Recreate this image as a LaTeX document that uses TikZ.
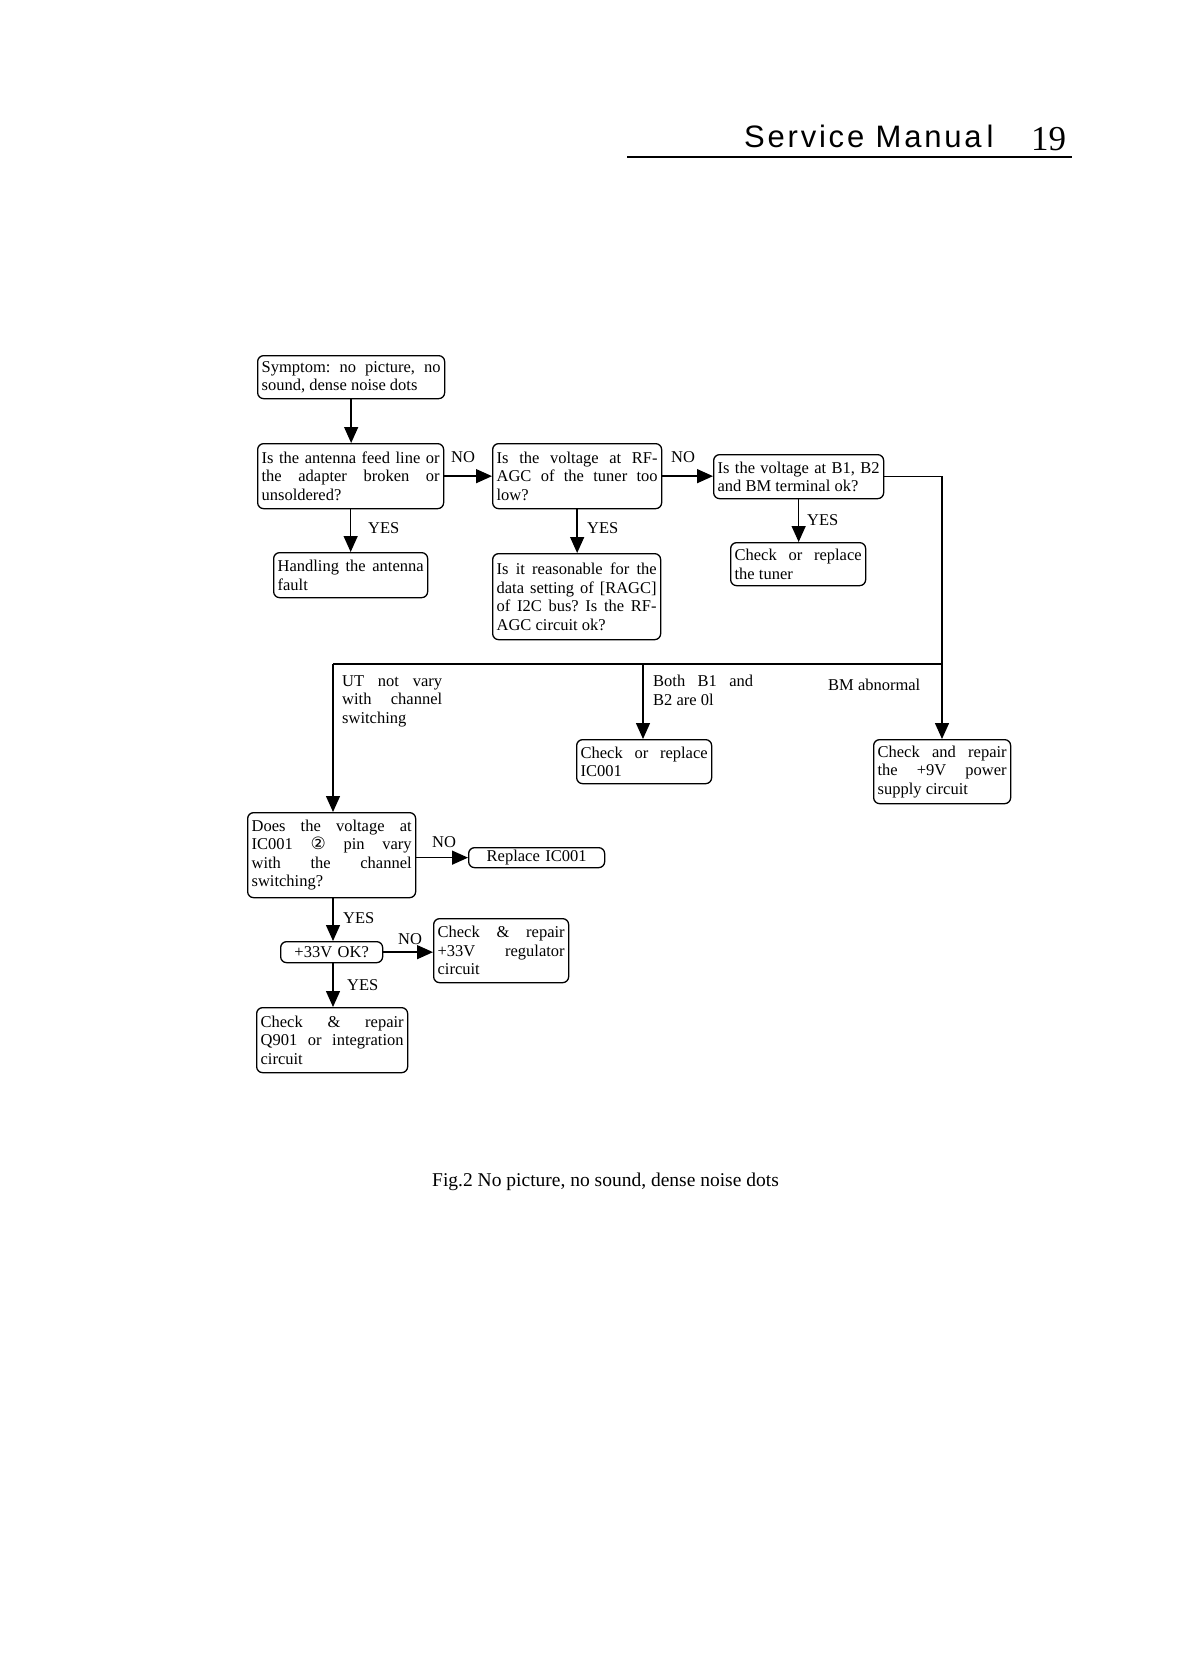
\documentclass[tikz,border=0pt]{standalone}
\usepackage{fontspec}
\setmainfont{Liberation Serif}
\newfontfamily\hdrfont[LetterSpace=9]{Liberation Sans}
\newfontfamily\symfont{DejaVu Sans}
\usetikzlibrary{arrows.meta}
\newcommand{\nl}{\linebreak}
\frenchspacing
\tikzset{
  box/.style={draw, line width=1.3pt, rounded corners=6pt, anchor=north west,
    inner xsep=4pt, inner ysep=1pt, align=justify,
    font=\fontsize{16.5}{18.5}\selectfont},
  onebox/.style={box, align=center},
  lbl/.style={inner sep=0pt, font=\fontsize{16.5}{18.5}\selectfont},
  arr/.style={line width=1.4pt, -{Triangle[width=14pt,length=16pt]}},
  ln/.style={line width=1.4pt}
}
\begin{document}
\begin{tikzpicture}[x=1pt,y=-1pt]
\useasboundingbox (0,0) rectangle (1189,1680);
\fill[white] (0,0) rectangle (1189,1680);
% header
\node[inner sep=0pt, anchor=base west, font=\hdrfont\fontsize{31}{33}\selectfont] (hdr) at (744,148) {Service Manua\hspace{5pt}l};
\node[inner sep=0pt, anchor=base west, font=\fontsize{35}{37}\selectfont] (pg) at (1031,151) {19};
\draw[line width=1.8pt] (627,157) -- (1072,157);
% boxes
\node[box, text width=179pt, minimum height=43pt] (symptom) at (257,355)
  {Symptom: no picture, no\nl sound, dense noise dots};
\node[box, text width=178pt, minimum height=65pt] (antenna) at (257,443)
  {Is the antenna feed line or\nl the adapter broken or\nl unsoldered?};
\node[box, text width=161pt, minimum height=65pt] (rf) at (492,443)
  {Is the voltage at RF-\nl AGC of the tuner too\nl low?};
\node[box, text width=162pt, minimum height=44pt] (b1b2) at (713,454)
  {Is the voltage at B1, B2\nl and BM terminal ok?};
\node[box, text width=146pt, minimum height=45pt] (handling) at (273,552)
  {Handling the antenna\nl fault};
\node[box, text width=160pt, minimum height=86pt] (reason) at (492,553)
  {Is it reasonable for the\nl data setting of [RAGC]\nl of I2C bus? Is the RF-\nl AGC circuit ok?};
\node[box, text width=127pt, minimum height=43pt] (tuner) at (730,542)
  {Check or replace\nl the tuner};
\node[box, text width=127pt, minimum height=44pt] (icchk) at (576,739)
  {Check or replace\nl IC001};
\node[box, text width=129pt, minimum height=64pt] (p9) at (873,739)
  {Check and repair\nl the +9V power\nl supply circuit};
\node[box, text width=160pt, minimum height=85pt] (does) at (247,812)
  {Does the voltage at\nl IC001 {\symfont\fontsize{17}{17}\selectfont ②} pin vary\nl with the channel\nl switching?};
\node[onebox, text width=128pt, minimum height=20pt] (replace) at (468,847) {Replace IC001};
\node[onebox, text width=94pt, minimum height=21pt] (v33) at (280,941) {+33V OK?};
\node[box, text width=127pt, minimum height=64pt] (c33) at (433,918)
  {Check \& repair\nl +33V regulator\nl circuit};
\node[box, text width=143pt, minimum height=65pt] (q901) at (256,1007)
  {Check \& repair\nl Q901 or integration\nl circuit};
% junction coordinates
\coordinate (lc) at (333,664);
\coordinate (mc) at (643,664);
\coordinate (rc) at (942,664);
% connectors
\draw[arr] (symptom.south) -- (symptom.south |- antenna.north);
\draw[arr] (antenna.east) -- (antenna.east -| rf.west);
\draw[arr] (rf.east) -- (rf.east -| b1b2.west);
\draw[arr] (antenna.south) -- (antenna.south |- handling.north);
\draw[arr] (rf.south) -- (rf.south |- reason.north);
\draw[arr] (b1b2.south) -- (b1b2.south |- tuner.north);
\draw[ln] (b1b2.east) -| (rc);
\draw[ln] (lc) -- (rc);
\draw[arr] (rc) -- (rc |- p9.north);
\draw[arr] (mc) -- (mc |- icchk.north);
\draw[arr] (lc) -- (lc |- does.north);
\draw[arr] (replace.west -| does.east) -- (replace.west);
\draw[arr] (lc |- does.south) -- (lc |- v33.north);
\draw[arr] (v33.east) -- (v33.east -| c33.west);
\draw[arr] (lc |- v33.south) -- (lc |- q901.north);
% labels
\node[lbl] (no1) at (463,457) {NO};
\node[lbl] (no2) at (683,457) {NO};
\node[lbl, anchor=west] (yes1) at (368,528) {YES};
\node[lbl, anchor=west] (yes2) at (587,528) {YES};
\node[lbl, anchor=west] (yes3) at (807,520) {YES};
\node[lbl, anchor=north west, text width=100pt, align=justify] (ut) at (342,675)
  {UT not vary\nl with channel\nl switching};
\node[lbl, anchor=north west, text width=100pt, align=justify] (both) at (653,675)
  {Both B1 and\nl B2 are 0l};
\node[lbl, anchor=west] (bm) at (828,685) {BM abnormal};
\node[lbl, anchor=west] (no3) at (432,842) {NO};
\node[lbl, anchor=west] (yes4) at (343,918) {YES};
\node[lbl, anchor=west] (no4) at (398,939) {NO};
\node[lbl, anchor=west] (yes5) at (347,985) {YES};
% caption
\node[inner sep=0pt, anchor=base west, font=\fontsize{19.5}{22}\selectfont] (cap) at (432,1186)
  {Fig.2 No picture, no sound, dense noise dots};
\end{tikzpicture}
\end{document}
